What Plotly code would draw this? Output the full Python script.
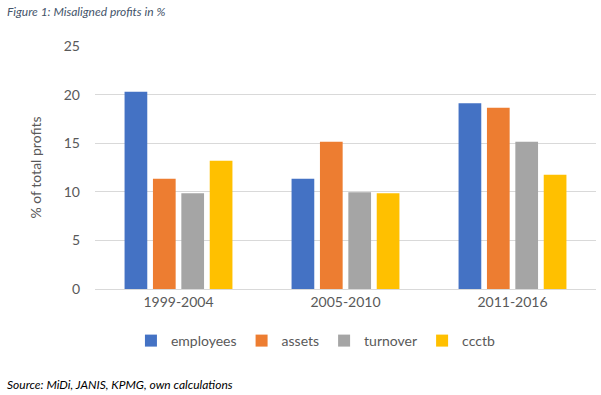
import plotly.graph_objects as go

categories = ["1999-2004", "2005-2010", "2011-2016"]
employees = [20.3, 11.35, 19.1]
assets = [11.35, 15.15, 18.65]
turnover = [9.85, 9.95, 15.15]
ccctb = [13.2, 9.85, 11.75]
series_names = ["employees", "assets", "turnover", "ccctb"]
colors = ["#4472C4", "#ED7D31", "#A5A5A5", "#FFC000"]
y_ticks = [0, 5, 10, 15, 20, 25]

FONT = "Lato"
fig = go.Figure()
for name, vals, c in zip(series_names, [employees, assets, turnover, ccctb], colors):
    fig.add_trace(go.Bar(x=categories, y=vals, name=name, marker_color=c,
                         marker_line_width=0))

W, H = 601, 395
ml, mr, mt, mb = 95, 5, 46, 106
pw = W - ml - mr
ph = H - mt - mb

fig.update_layout(
    width=W, height=H,
    margin=dict(l=ml, r=mr, t=mt, b=mb),
    plot_bgcolor="white", paper_bgcolor="white",
    barmode="group", bargap=0.32, bargroupgap=0.2,
    font=dict(family=FONT, size=14, color="#595959"),
    showlegend=True,
    legend=dict(orientation="h", x=0.44, xanchor="center", y=(289 - 341) / ph,
                yanchor="middle", font=dict(size=14, color="#595959"),
                itemwidth=30, tracegroupgap=0),
    xaxis=dict(showgrid=False, showline=True, linecolor="#D9D9D9", linewidth=1,
               ticks="", tickfont=dict(size=14, color="#595959")),
    yaxis=dict(range=[0, 25], tickvals=y_ticks, showgrid=True, gridcolor="#D9D9D9",
               gridwidth=1, zeroline=False, showline=False, ticks="",
               tickfont=dict(size=14, color="#595959"), ticklabelstandoff=14,
               title=dict(text="% of total profits", font=dict(size=14, color="#595959"),
                          standoff=18)),
    annotations=[
        dict(text="<i>Figure 1: Misaligned profits in %</i>", xref="paper", yref="paper",
             x=(5 - ml) / pw, y=(mt + ph - 12) / ph, xanchor="left", yanchor="middle",
             showarrow=False, font=dict(family=FONT, size=12, color="#44546A")),
        dict(text="<i>Source: MiDi, JANIS, KPMG, own calculations</i>", xref="paper", yref="paper",
             x=(5 - ml) / pw, y=(289 - 384) / ph, xanchor="left", yanchor="middle",
             showarrow=False, font=dict(family=FONT, size=12, color="#000000")),
    ],
)
fig.write_html("out.html", config={"displayModeBar": False},
               post_script="document.body.style.margin='0';")
